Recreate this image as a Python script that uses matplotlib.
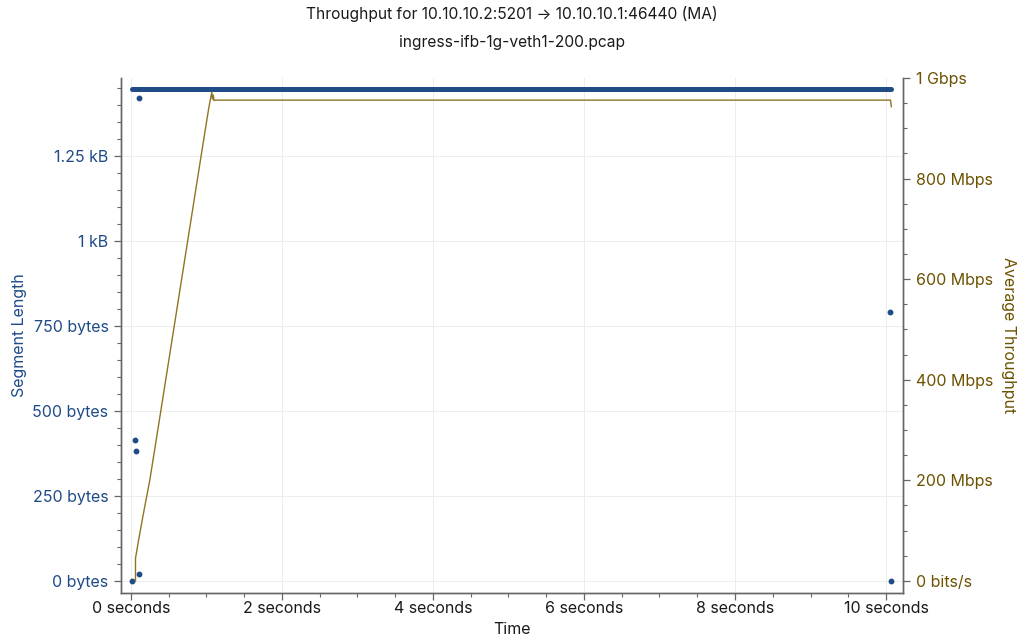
import matplotlib
matplotlib.use("Agg")
import matplotlib.pyplot as plt
from matplotlib.ticker import FixedLocator, MultipleLocator

plt.rcParams['font.family'] = ['Inter', 'DejaVu Sans']

# ---- data ----
# bulk full-size segments (dense run of 1448-byte packets)
bulk_time = [0.01, 10.07]
bulk_len = [1448, 1448]
# individual odd-sized segments
seg_time = [0.01, 0.05, 0.07, 0.11, 0.11, 10.05, 10.07]
seg_len = [0, 415, 382, 21, 1420, 790, 0]
# moving-average throughput (Mbps)
tp_time = [0.06, 0.06, 0.10, 0.16, 0.25, 0.35, 0.45, 0.55, 0.65, 0.75, 0.85,
           0.95, 1.03, 1.07, 1.08, 1.09, 1.10, 1.12, 10.06, 10.07]
tp_mbps = [0, 45, 80, 130, 201, 295, 390, 485, 580, 675, 770,
           865, 940, 972, 958, 966, 955, 956, 956, 943]

x_ticks = [0, 2, 4, 6, 8, 10]
x_labels = ["0 seconds", "2 seconds", "4 seconds", "6 seconds", "8 seconds", "10 seconds"]
left_ticks = [0, 250, 500, 750, 1000, 1250]
left_labels = ["0 bytes", "250 bytes", "500 bytes", "750 bytes", "1 kB", "1.25 kB"]
right_ticks = [0, 200, 400, 600, 800, 1000]
right_labels = ["0 bits/s", "200 Mbps", "400 Mbps", "600 Mbps", "800 Mbps", "1 Gbps"]

BLUE = "#1f4b87"
GOLD_TXT = "#6b5200"
GOLD_LINE = "#8f7423"

fig = plt.figure(figsize=(10.24, 6.44), dpi=100)
ax = fig.add_axes([121/1024, 1-593/644, (903-121)/1024, (593-78)/644])
ax2 = ax.twinx()

# grid
ax.set_axisbelow(True)
ax.grid(True, which='major', color='#ededed', lw=0.7)

ax.plot(bulk_time, bulk_len, color=BLUE, lw=3.6, solid_capstyle='round', zorder=3)
ax.plot(seg_time, seg_len, 'o', color=BLUE, ms=3.2, zorder=3)
ax2.plot(tp_time, tp_mbps, color=GOLD_LINE, lw=1.0)

ax.set_xlim(-0.132, 10.225)
ax.set_ylim(-35, 1479)
ax2.set_ylim(-24, 1000)

ax.xaxis.set_major_locator(FixedLocator(x_ticks))
ax.set_xticklabels(x_labels)
ax.xaxis.set_minor_locator(MultipleLocator(0.5))
ax.yaxis.set_major_locator(FixedLocator(left_ticks))
ax.set_yticklabels(left_labels)
ax.yaxis.set_minor_locator(MultipleLocator(50))
ax2.yaxis.set_major_locator(FixedLocator(right_ticks))
ax2.set_yticklabels(right_labels)
ax2.yaxis.set_minor_locator(MultipleLocator(50))

for a in (ax, ax2):
    a.spines['top'].set_visible(False)
    for s in a.spines.values():
        s.set_color('#666666')
        s.set_linewidth(1.0)
ax.tick_params(axis='both', which='major', length=5, width=0.9, color='#666666', labelsize=11.5, pad=4)
ax.tick_params(axis='both', which='minor', length=3, width=0.8, color='#666666')
ax.tick_params(axis='x', which='major', pad=1)
ax.tick_params(axis='y', labelcolor=BLUE)
ax.tick_params(axis='x', labelcolor='#1a1a1a')
ax2.tick_params(axis='y', which='major', length=5, width=0.9, color='#666666', labelsize=11.5, labelcolor=GOLD_TXT, pad=4)
ax2.tick_params(axis='y', which='minor', length=3, width=0.8, color='#666666')

ax.set_xlabel("Time", fontsize=11.5, color='#1a1a1a', labelpad=4)
ax.set_ylabel("Segment Length", fontsize=11.5, color=BLUE, labelpad=4)
ax2.set_ylabel("Average Throughput", fontsize=11.5, color=GOLD_TXT, rotation=-90, labelpad=17)

fig.text(0.5, 1-14/644, "Throughput for 10.10.10.2:5201 \u2192 10.10.10.1:46440 (MA)",
         ha='center', va='center', fontsize=11.2, color='#1a1a1a')
fig.text(0.5, 1-43/644, "ingress-ifb-1g-veth1-200.pcap",
         ha='center', va='center', fontsize=11.2, color='#1a1a1a')

fig.savefig("out.png", dpi=100)
